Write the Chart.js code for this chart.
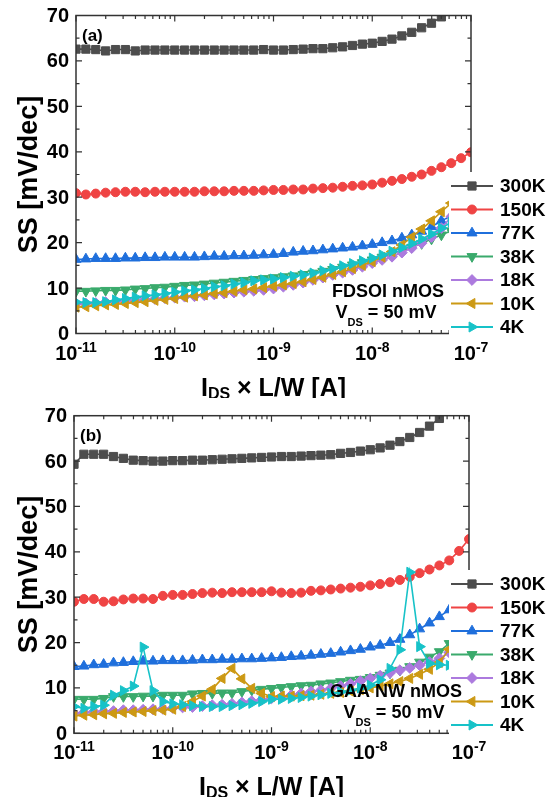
<!DOCTYPE html>
<html>
<head>
<meta charset="utf-8">
<script src="https://cdn.jsdelivr.net/npm/chart.js@4.4.1/dist/chart.umd.min.js"></script>
<style>
  html, body { margin: 0; padding: 0; background: #fff; }
  #wrap { position: relative; width: 558px; height: 797px; }
  canvas { position: absolute; left: 0; }
</style>
</head>
<body>
<div id="wrap">
  <canvas id="chartA" width="558" height="398" style="top:0"></canvas>
  <canvas id="chartB" width="558" height="399" style="top:398px"></canvas>
</div>
<script>
// log10 of I_DS x L/W, one point every 0.1 decade
const logI = [-11.0, -10.9, -10.8, -10.7, -10.6, -10.5, -10.4, -10.3, -10.2, -10.1,
              -10.0, -9.9, -9.8, -9.7, -9.6, -9.5, -9.4, -9.3, -9.2, -9.1,
              -9.0, -8.9, -8.8, -8.7, -8.6, -8.5, -8.4, -8.3, -8.2, -8.1,
              -8.0, -7.9, -7.8, -7.7, -7.6, -7.5, -7.4, -7.3, -7.2, -7.1, -7.0];

const tempNames = ['300K', '150K', '77K', '38K', '18K', '10K', '4K'];

// (a) FDSOI nMOS, SS in mV/dec
const ssA300 = [62.6, 62.6, 62.5, 62.2, 62.5, 62.5, 62.2, 62.4, 62.4, 62.4, 62.4, 62.4, 62.4, 62.4, 62.4, 62.4, 62.4, 62.4, 62.4, 62.5, 62.4,
                62.4, 62.5, 62.6, 62.7, 62.7, 62.9, 63.1, 63.4, 63.7, 63.9, 64.3, 64.8, 65.5, 66.3, 67.3, 68.3, 69.7, 71.2];
const ssA150 = [30.9, 30.6, 30.8, 31.0, 31.1, 31.2, 31.2, 31.1, 31.2, 31.2, 31.2, 31.2, 31.2, 31.3, 31.3, 31.3, 31.4, 31.4, 31.4, 31.5, 31.6,
                31.6, 31.7, 31.7, 31.9, 32.0, 32.1, 32.3, 32.5, 32.6, 32.8, 33.2, 33.6, 34.0, 34.5, 35.0, 35.8, 36.6, 37.5, 38.6, 39.9];
const ssA77  = [16.3, 16.4, 16.5, 16.5, 16.5, 16.6, 16.6, 16.7, 16.7, 16.8, 16.8, 16.8, 16.8, 16.9, 17.0, 17.0, 17.1, 17.1, 17.2, 17.3, 17.4,
                17.6, 17.9, 18.1, 18.2, 18.4, 18.6, 18.8, 19.0, 19.3, 19.6, 20.0, 20.4, 21.0, 21.7, 22.5, 23.5, 24.8, 25.9];
const ssA38  = [9.3, 9.3, 9.4, 9.5, 9.5, 9.6, 9.8, 9.9, 10.1, 10.2, 10.4, 10.6, 10.7, 10.9, 11.1, 11.3, 11.5, 11.7, 11.9, 12.1, 12.3,
                12.5, 12.7, 13.0, 13.3, 13.7, 14.1, 14.6, 15.1, 15.6, 16.2, 16.8, 17.5, 18.2, 19.0, 19.8, 20.8, 21.7, 22.6];
const ssA18  = [6.5, 6.6, 6.7, 6.9, 7.0, 7.2, 7.3, 7.5, 7.6, 7.8, 7.9, 8.1, 8.2, 8.4, 8.6, 8.8, 9.0, 9.2, 9.4, 9.6, 9.9,
                10.3, 10.7, 11.2, 11.8, 12.3, 12.9, 13.4, 14.0, 14.7, 15.5, 16.2, 16.9, 17.8, 18.8, 19.9, 21.2, 23.2, 25.7];
const ssA10  = [5.8, 5.9, 6.1, 6.3, 6.4, 6.6, 6.8, 7.0, 7.3, 7.5, 7.7, 8.0, 8.3, 8.5, 8.8, 9.0, 9.3, 9.6, 9.8, 10.1, 10.4,
                10.7, 11.0, 11.4, 11.9, 12.4, 13.0, 13.6, 14.3, 15.0, 15.8, 16.8, 18.0, 19.5, 21.2, 23.0, 24.8, 26.8, 28.7];
const ssA4   = [6.9, 6.8, 6.8, 7.0, 7.4, 7.7, 8.0, 8.3, 8.5, 8.8, 9.1, 9.4, 9.6, 9.9, 10.3, 10.5, 10.9, 11.2, 11.6, 11.8, 12.0,
                12.3, 12.6, 12.9, 13.3, 13.8, 14.3, 14.9, 15.4, 16.0, 16.6, 17.3, 18.1, 18.9, 19.8, 20.8, 21.9, 23.2, 24.5];

// (b) GAA NW nMOS
const ssB300 = [59.3, 61.5, 61.5, 61.5, 61.0, 60.6, 60.2, 60.1, 60.0, 60.0, 60.1, 60.1, 60.2, 60.2, 60.3, 60.4, 60.5, 60.6, 60.7, 60.8, 60.9,
                61.0, 61.0, 61.1, 61.2, 61.3, 61.4, 61.7, 61.9, 62.2, 62.5, 62.9, 63.5, 64.3, 65.2, 66.3, 67.7, 69.4, 71.2];
const ssB150 = [29.0, 29.6, 29.6, 29.0, 29.1, 29.5, 29.7, 29.7, 29.6, 30.3, 30.5, 30.5, 30.7, 30.9, 31.0, 30.9, 31.1, 31.1, 31.1, 31.1, 31.3,
                31.0, 30.9, 31.0, 31.4, 31.5, 31.7, 31.9, 32.1, 32.3, 32.6, 32.9, 33.3, 33.8, 34.5, 35.3, 36.1, 37.0, 38.1, 40.2, 42.8];
const ssB77  = [14.7, 14.8, 15.1, 15.2, 15.5, 15.6, 15.8, 15.9, 15.9, 16.0, 16.0, 16.0, 16.1, 16.2, 16.2, 16.3, 16.3, 16.4, 16.4, 16.5, 16.6,
                16.7, 16.9, 17.0, 17.2, 17.4, 17.6, 17.9, 18.2, 18.5, 19.0, 19.4, 20.0, 20.7, 21.7, 23.0, 24.3, 25.7, 27.2];
const ssB38  = [7.5, 7.5, 7.5, 7.7, 8.1, 8.1, 8.1, 8.2, 8.2, 8.4, 8.4, 8.4, 8.7, 8.8, 8.8, 8.9, 8.9, 9.2, 9.5, 9.7, 9.9,
                10.1, 10.3, 10.5, 10.6, 10.9, 11.1, 11.4, 11.7, 11.9, 12.3, 12.8, 13.3, 13.9, 14.7, 15.7, 16.8, 18.0, 19.8];
const ssB18  = [4.4, 4.6, 4.8, 4.8, 4.9, 5.1, 5.1, 5.2, 5.3, 5.4, 5.6, 5.7, 5.8, 6.0, 6.2, 6.3, 6.5, 6.8, 7.1, 7.4, 7.7,
                8.0, 8.4, 8.8, 9.2, 9.5, 9.9, 10.4, 10.9, 11.5, 12.1, 12.7, 13.3, 13.9, 14.4, 15.0, 15.7, 16.5, 17.8];
const ssB10  = [3.8, 4.0, 4.1, 4.3, 4.4, 4.6, 4.7, 4.8, 5.0, 5.1, 5.3, 5.9, 7.0, 8.2, 9.7, 12.1, 14.3, 12.0, 9.9, 8.8, 8.1,
                8.2, 8.2, 8.3, 8.4, 8.6, 8.8, 9.0, 9.3, 9.6, 10.0, 10.4, 10.9, 11.4, 12.1, 13.0, 14.1, 15.6, 18.5];
const ssB4   = [5.9, 5.5, 5.9, 6.2, 8.4, 9.4, 10.4, 19.0, 9.4, 7.0, 6.5, 6.3, 6.1, 5.9, 5.9, 5.9, 6.1, 6.3, 6.6, 7.0, 7.5,
                7.5, 7.7, 7.9, 8.2, 8.5, 8.8, 9.1, 9.5, 10.0, 10.6, 11.8, 14.3, 18.4, 35.5, 19.1, 15.4, 15.1, 15.0];

// axis ticks
const yTickValues = [0, 10, 20, 30, 40, 50, 60, 70];
const xTickExps = [-11, -10, -9, -8, -7];

// looks of each temperature
const colors = ['#4d4d4d', '#ef4444', '#1f6fdc', '#3aaa6c', '#ac7ade', '#cc9914', '#17c2c8'];
const pointStyles = ['rect', 'circle', 'triangle', 'triangle', 'rectRot', 'triangle', 'triangle'];
const pointRotations = [0, 0, 0, 180, 0, 270, 90];
const pointRadii = [5.8, 4.5, 5.8, 5.8, 5.4, 5.8, 5.8];

const FONT = '"Liberation Sans", Arial, Helvetica, sans-serif';

function buildDatasets(seriesList) {
    return seriesList.map((s, i) => ({
        label: tempNames[i],
        data: s.map((v, k) => ({ x: Math.pow(10, logI[k]), y: v })),
        borderColor: colors[i],
        backgroundColor: colors[i],
        borderWidth: 1.6,
        pointStyle: pointStyles[i],
        pointRotation: pointRotations[i],
        pointRadius: pointRadii[i],
        pointBorderWidth: 1,
        pointBorderColor: colors[i],
        pointBackgroundColor: colors[i],
        order: seriesList.length - i,   // 4K ends up on top
        clip: 0,
        tension: 0
    }));
}

// text with a sub- or superscript part
function drawParts(ctx, parts, x, y, align) {
    let total = 0;
    parts.forEach(p => { ctx.font = 'bold ' + p.size + 'px ' + FONT; p.w = ctx.measureText(p.text).width; total += p.w; });
    let cx = align === 'center' ? x - total / 2 : x;
    ctx.textAlign = 'left';
    ctx.textBaseline = 'alphabetic';
    parts.forEach(p => {
        ctx.font = 'bold ' + p.size + 'px ' + FONT;
        ctx.fillText(p.text, cx, y + (p.dy || 0));
        cx += p.w;
    });
}

const axesPlugin = {
    id: 'originAxes',
    afterDraw(chart, args, opts) {
        const { ctx, chartArea: a, scales: { x, y } } = chart;
        ctx.save();

        // frame
        ctx.strokeStyle = '#333';
        ctx.lineWidth = 1.5;
        ctx.strokeRect(a.left, a.top, a.right - a.left, a.bottom - a.top);

        // y ticks, inward, minor every 5
        ctx.lineWidth = 1.2;
        for (let v = 0; v <= 70; v += 5) {
            const py = y.getPixelForValue(v);
            const len = v % 10 === 0 ? 6 : 3.5;
            ctx.beginPath();
            ctx.moveTo(a.left, py); ctx.lineTo(a.left + len, py);
            ctx.moveTo(a.right, py); ctx.lineTo(a.right - len, py);
            ctx.stroke();
        }
        // x ticks, log decades with 2..9 minors
        xTickExps.forEach(e => {
            for (let m = 1; m <= 9; m++) {
                const val = m * Math.pow(10, e);
                if (val > x.max * 1.0001) break;
                const px = x.getPixelForValue(val);
                const len = m === 1 ? 6 : 3.5;
                ctx.beginPath();
                ctx.moveTo(px, a.bottom); ctx.lineTo(px, a.bottom - len);
                ctx.moveTo(px, a.top); ctx.lineTo(px, a.top + len);
                ctx.stroke();
            }
        });

        // legend box covers the lower right corner of the plot
        const lg = opts.legend;
        ctx.fillStyle = '#fff';
        ctx.fillRect(lg.left, lg.top, chart.width - lg.left, a.bottom + 3 - lg.top);
        tempNames.forEach((name, i) => {
            const ry = lg.firstRow + i * lg.step;
            ctx.strokeStyle = colors[i];
            ctx.lineWidth = 2;
            ctx.beginPath();
            ctx.moveTo(lg.lineX0, ry); ctx.lineTo(lg.lineX1, ry);
            ctx.stroke();
            ctx.fillStyle = colors[i];
            ctx.lineWidth = 1;
            Chart.helpers.drawPoint(ctx, {
                pointStyle: pointStyles[i], rotation: pointRotations[i],
                radius: pointRadii[i], borderWidth: 1
            }, (lg.lineX0 + lg.lineX1) / 2, ry);
            ctx.fillStyle = '#000';
            ctx.font = 'bold 19px ' + FONT;
            ctx.textAlign = 'left';
            ctx.textBaseline = 'middle';
            ctx.fillText(name, lg.textX, ry + 1);
        });

        // tick labels
        ctx.fillStyle = '#000';
        ctx.font = 'bold 20px ' + FONT;
        ctx.textAlign = 'right';
        ctx.textBaseline = 'middle';
        yTickValues.forEach(v => ctx.fillText(String(v), a.left - 7, y.getPixelForValue(v) + 1));
        xTickExps.forEach(e => {
            drawParts(ctx, [
                { text: '10', size: 20 },
                { text: '-' + Math.abs(e), size: 14, dy: -8 }
            ], x.getPixelForValue(Math.pow(10, e)), a.bottom + 26, 'center');
        });

        // axis titles
        drawParts(ctx, [
            { text: 'I', size: 25 },
            { text: 'DS', size: 16, dy: 3 },
            { text: ' \u00d7 L/W [A]', size: 25 }
        ], (a.left + a.right) / 2, a.bottom + 62, 'center');
        ctx.save();
        ctx.translate(37, (a.top + a.bottom) / 2);
        ctx.rotate(-Math.PI / 2);
        ctx.font = 'bold 27px ' + FONT;
        ctx.textAlign = 'center';
        ctx.textBaseline = 'alphabetic';
        ctx.fillText('SS [mV/dec]', 0, 0);
        ctx.restore();

        // panel tag and device notes
        ctx.font = 'bold 17px ' + FONT;
        ctx.textAlign = 'left';
        ctx.textBaseline = 'alphabetic';
        ctx.fillText(opts.tag, a.left + 6, a.top + 25.5);
        drawParts(ctx, [{ text: opts.device, size: 18 }], opts.noteX, opts.noteY, 'center');
        drawParts(ctx, [
            { text: 'V', size: 18 },
            { text: 'DS', size: 11, dy: 8 },
            { text: ' = 50 mV', size: 18 }
        ], opts.noteX - 2, opts.noteY + 21, 'center');

        ctx.restore();
    }
};

function makeChart(id, seriesList, padding, notes) {
    const ctx = document.getElementById(id).getContext('2d');
    return new Chart(ctx, {
        type: 'line',
        data: { datasets: buildDatasets(seriesList) },
        options: {
            responsive: false,
            animation: false,
            events: [],
            layout: { padding: padding },
            scales: {
                x: { type: 'logarithmic', min: 1e-11, max: 1e-7, display: false },
                y: { type: 'linear', min: 0, max: 70, display: false }
            },
            plugins: {
                legend: { display: false },
                tooltip: { enabled: false },
                originAxes: notes
            }
        },
        plugins: [axesPlugin]
    });
}

const legendSpot = { left: 449, top: 172, firstRow: 186, step: 23.5, lineX0: 451, lineX1: 493, textX: 500 };

makeChart('chartA', [ssA300, ssA150, ssA77, ssA38, ssA18, ssA10, ssA4],
    { left: 76, right: 87, top: 15.5, bottom: 64.5 },
    { tag: '(a)', device: 'FDSOI nMOS', noteX: 388, noteY: 297, legend: legendSpot });

makeChart('chartB', [ssB300, ssB150, ssB77, ssB38, ssB18, ssB10, ssB4],
    { left: 74, right: 89, top: 17.7, bottom: 63.7 },
    { tag: '(b)', device: 'GAA NW nMOS', noteX: 396, noteY: 299, legend: legendSpot });
</script>
</body>
</html>
